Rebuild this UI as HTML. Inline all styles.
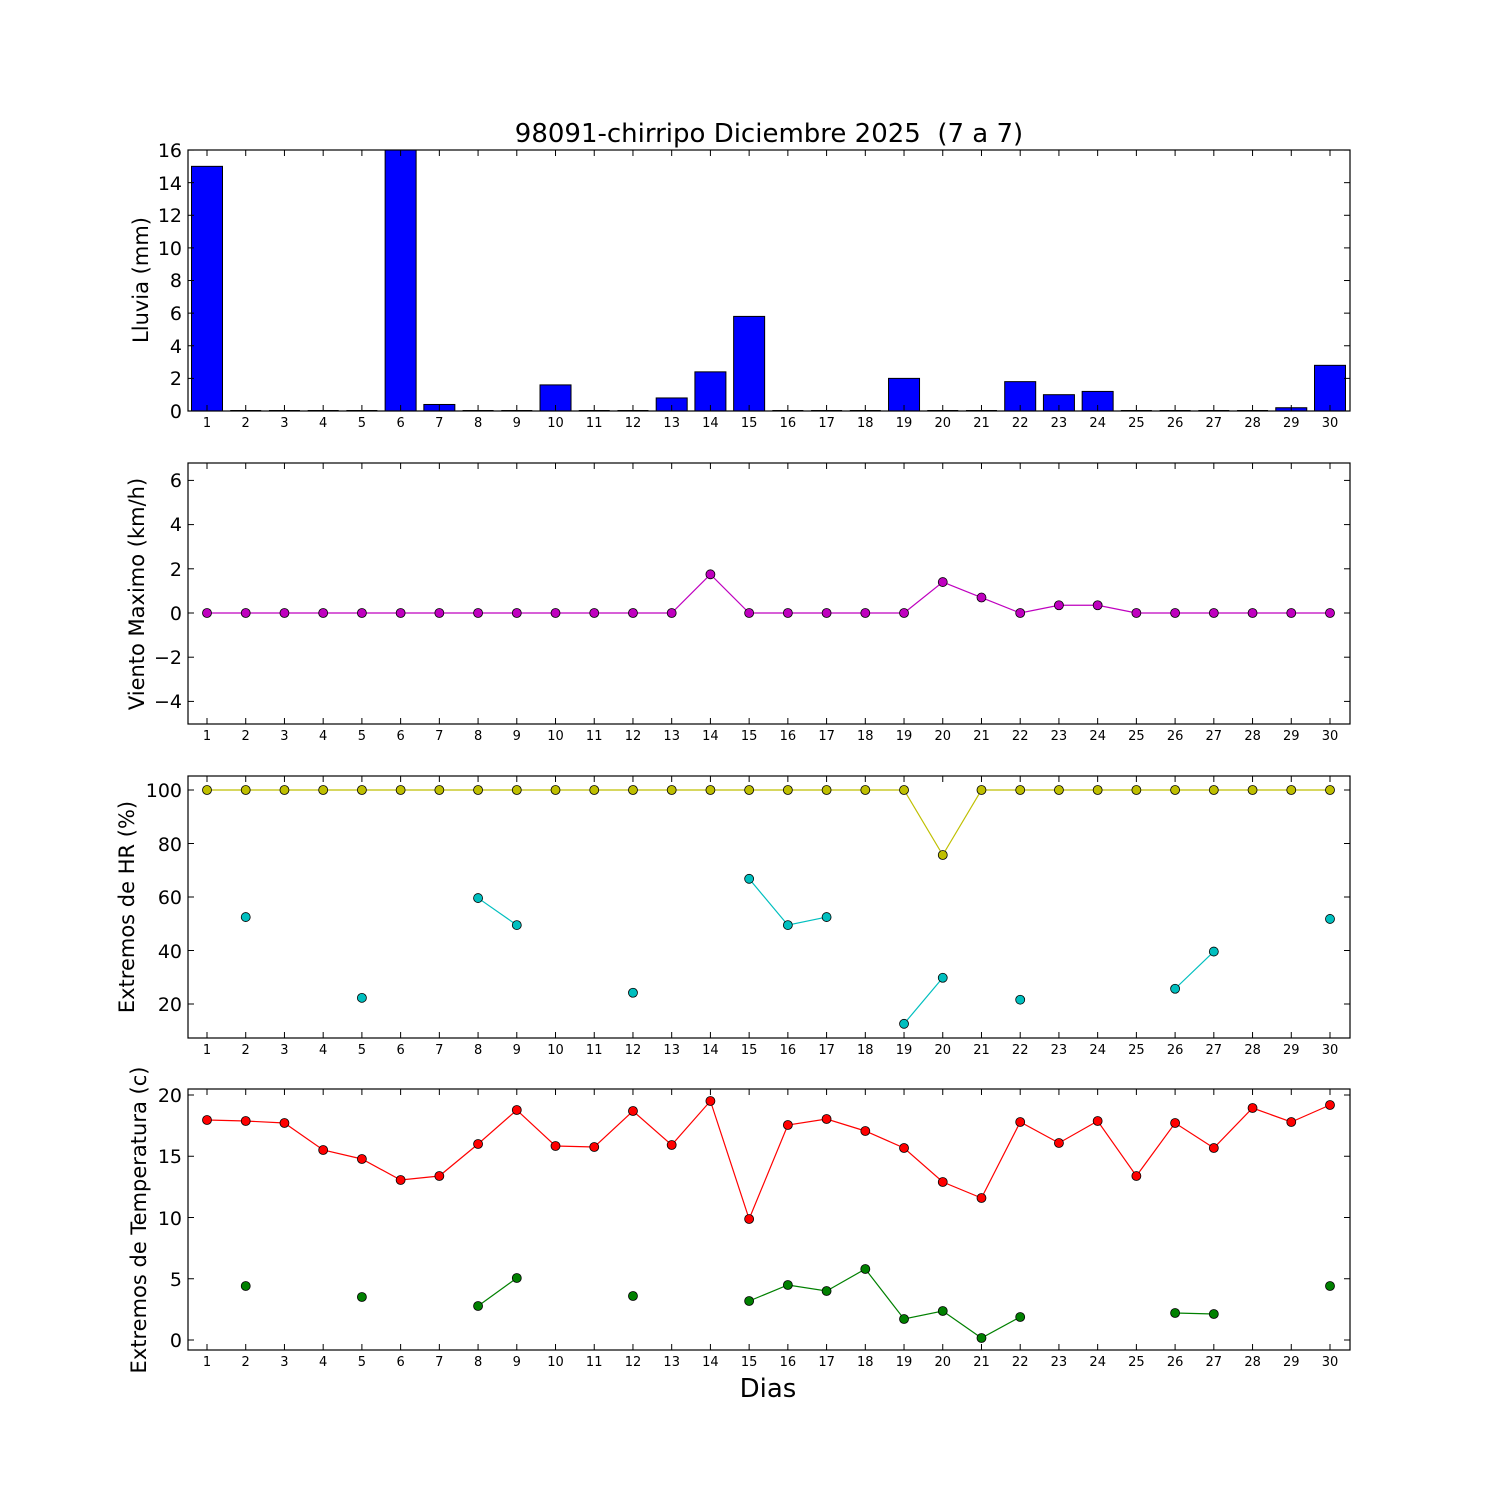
<!DOCTYPE html>
<html><head><meta charset="utf-8"><style>
html,body{margin:0;padding:0;background:#fff;}
svg{display:block;font-family:"DejaVu Sans","Liberation Sans",sans-serif;}
.tl{font-size:13px;text-anchor:middle;}
.yl{font-size:19px;text-anchor:end;}
.al{font-size:21px;text-anchor:middle;}
</style></head><body>
<svg id="s" width="1500" height="1500" xmlns="http://www.w3.org/2000/svg">
<rect width="1500" height="1500" fill="#fff"/>
<g id="shapes"></g>
<text x="769" y="142" style="font-size:26px;text-anchor:middle">98091-chirripo Diciembre 2025&#160; (7 a 7)</text>
<text x="768" y="1397" style="font-size:26px;text-anchor:middle">Dias</text>
<text class="al" transform="translate(148,280) rotate(-90)">Lluvia (mm)</text>
<text class="al" transform="translate(144,594) rotate(-90)">Viento Maximo (km/h)</text>
<text class="al" transform="translate(134,907) rotate(-90)">Extremos de HR (%)</text>
<text class="al" transform="translate(146,1220) rotate(-90)">Extremos de Temperatura (c)</text>
<g class="yl">
<text x="182" y="418">0</text><text x="182" y="385">2</text><text x="182" y="353">4</text><text x="182" y="320">6</text><text x="182" y="287">8</text><text x="182" y="255">10</text><text x="182" y="222">12</text><text x="182" y="190">14</text><text x="182" y="157">16</text>
<text x="182" y="708">−4</text><text x="182" y="664">−2</text><text x="182" y="620">0</text><text x="182" y="576">2</text><text x="182" y="531">4</text><text x="182" y="487">6</text>
<text x="182" y="1011">20</text><text x="182" y="958">40</text><text x="182" y="904">60</text><text x="182" y="851">80</text><text x="182" y="797">100</text>
<text x="182" y="1347">0</text><text x="182" y="1286">5</text><text x="182" y="1225">10</text><text x="182" y="1163">15</text><text x="182" y="1102">20</text>
</g>
<g class="tl">
<text y="427"><tspan x="207">1</tspan><tspan x="245.7">2</tspan><tspan x="284.4">3</tspan><tspan x="323.2">4</tspan><tspan x="361.9">5</tspan><tspan x="400.6">6</tspan><tspan x="439.3">7</tspan><tspan x="478.1">8</tspan><tspan x="516.8">9</tspan><tspan x="555.5">10</tspan><tspan x="594.2">11</tspan><tspan x="633">12</tspan><tspan x="671.7">13</tspan><tspan x="710.4">14</tspan><tspan x="749.1">15</tspan><tspan x="787.9">16</tspan><tspan x="826.6">17</tspan><tspan x="865.3">18</tspan><tspan x="904">19</tspan><tspan x="942.8">20</tspan><tspan x="981.5">21</tspan><tspan x="1020.2">22</tspan><tspan x="1058.9">23</tspan><tspan x="1097.7">24</tspan><tspan x="1136.4">25</tspan><tspan x="1175.1">26</tspan><tspan x="1213.8">27</tspan><tspan x="1252.6">28</tspan><tspan x="1291.3">29</tspan><tspan x="1330">30</tspan></text>
<text y="740"><tspan x="207">1</tspan><tspan x="245.7">2</tspan><tspan x="284.4">3</tspan><tspan x="323.2">4</tspan><tspan x="361.9">5</tspan><tspan x="400.6">6</tspan><tspan x="439.3">7</tspan><tspan x="478.1">8</tspan><tspan x="516.8">9</tspan><tspan x="555.5">10</tspan><tspan x="594.2">11</tspan><tspan x="633">12</tspan><tspan x="671.7">13</tspan><tspan x="710.4">14</tspan><tspan x="749.1">15</tspan><tspan x="787.9">16</tspan><tspan x="826.6">17</tspan><tspan x="865.3">18</tspan><tspan x="904">19</tspan><tspan x="942.8">20</tspan><tspan x="981.5">21</tspan><tspan x="1020.2">22</tspan><tspan x="1058.9">23</tspan><tspan x="1097.7">24</tspan><tspan x="1136.4">25</tspan><tspan x="1175.1">26</tspan><tspan x="1213.8">27</tspan><tspan x="1252.6">28</tspan><tspan x="1291.3">29</tspan><tspan x="1330">30</tspan></text>
<text y="1054"><tspan x="207">1</tspan><tspan x="245.7">2</tspan><tspan x="284.4">3</tspan><tspan x="323.2">4</tspan><tspan x="361.9">5</tspan><tspan x="400.6">6</tspan><tspan x="439.3">7</tspan><tspan x="478.1">8</tspan><tspan x="516.8">9</tspan><tspan x="555.5">10</tspan><tspan x="594.2">11</tspan><tspan x="633">12</tspan><tspan x="671.7">13</tspan><tspan x="710.4">14</tspan><tspan x="749.1">15</tspan><tspan x="787.9">16</tspan><tspan x="826.6">17</tspan><tspan x="865.3">18</tspan><tspan x="904">19</tspan><tspan x="942.8">20</tspan><tspan x="981.5">21</tspan><tspan x="1020.2">22</tspan><tspan x="1058.9">23</tspan><tspan x="1097.7">24</tspan><tspan x="1136.4">25</tspan><tspan x="1175.1">26</tspan><tspan x="1213.8">27</tspan><tspan x="1252.6">28</tspan><tspan x="1291.3">29</tspan><tspan x="1330">30</tspan></text>
<text y="1366"><tspan x="207">1</tspan><tspan x="245.7">2</tspan><tspan x="284.4">3</tspan><tspan x="323.2">4</tspan><tspan x="361.9">5</tspan><tspan x="400.6">6</tspan><tspan x="439.3">7</tspan><tspan x="478.1">8</tspan><tspan x="516.8">9</tspan><tspan x="555.5">10</tspan><tspan x="594.2">11</tspan><tspan x="633">12</tspan><tspan x="671.7">13</tspan><tspan x="710.4">14</tspan><tspan x="749.1">15</tspan><tspan x="787.9">16</tspan><tspan x="826.6">17</tspan><tspan x="865.3">18</tspan><tspan x="904">19</tspan><tspan x="942.8">20</tspan><tspan x="981.5">21</tspan><tspan x="1020.2">22</tspan><tspan x="1058.9">23</tspan><tspan x="1097.7">24</tspan><tspan x="1136.4">25</tspan><tspan x="1175.1">26</tspan><tspan x="1213.8">27</tspan><tspan x="1252.6">28</tspan><tspan x="1291.3">29</tspan><tspan x="1330">30</tspan></text>
</g>
</svg>
<script>
(function(){
var g=document.getElementById("shapes"),h="";
function X(d){return 207+(d-1)*38.724;}
var L=188,R=1350;
var panels=[[150,411],[463,724],[776,1038],[1089,1350]];
var rain={1:15,6:16.1,7:0.4,10:1.6,13:0.8,14:2.4,15:5.8,19:2.0,22:1.8,23:1.0,24:1.2,29:0.2,30:2.8};
for(var d=1;d<=30;d++){var v=rain[d]||0;var top=Math.max(150,411-v*16.31);
 if(v>0)h+='<rect x="'+(X(d)-15.5)+'" y="'+top+'" width="31" height="'+(411-top)+'" fill="#0000ff" stroke="#000" stroke-width="1"/>';
 else h+='<line x1="'+(X(d)-15.5)+'" x2="'+(X(d)+15.5)+'" y1="410.5" y2="410.5" stroke="#000" stroke-width="1"/>';}
function line(seg,col){return '<polyline fill="none" stroke="'+col+'" stroke-width="1.2" points="'+seg.map(function(p){return X(p[0])+','+p[1];}).join(' ')+'"/>';}
function series(pts,col){var s="",seg=[];
 for(var i=0;i<pts.length;i++){var p=pts[i];
  if(seg.length&&p[0]!==seg[seg.length-1][0]+1){if(seg.length>1)s+=line(seg,col);seg=[];}
  seg.push(p);}
 if(seg.length>1)s+=line(seg,col);
 pts.forEach(function(p){s+='<circle cx="'+X(p[0])+'" cy="'+p[1]+'" r="4.5" fill="'+col+'" stroke="#000" stroke-width="0.8"/>';});
 return s;}
var wv={14:1.75,20:1.4,21:0.7,23:0.35,24:0.35},wp=[];
for(d=1;d<=30;d++)wp.push([d,613-(wv[d]||0)*22.1]);
h+=series(wp,"#bf00bf");
var yp=[];for(d=1;d<=30;d++)yp.push([d,d==20?855:790]);
h+=series(yp,"#bfbf00");
var cy={2:52.5,5:22.3,8:59.6,9:49.5,12:24.2,15:66.8,16:49.5,17:52.5,19:12.6,20:29.8,22:21.6,26:25.7,27:39.6,30:51.8},cp=[];
for(d in cy)cp.push([+d,790+(100-cy[d])*2.675]);
cp.sort(function(a,b){return a[0]-b[0];});
h+=series(cp,"#00bfbf");
var red=[1120,1121,1123,1150,1159,1180,1176,1144,1110,1146,1147,1111,1145,1101,1219,1125,1119,1131,1148,1182,1198,1122,1143,1121,1176,1123,1148,1108,1122,1105],rp=[];
red.forEach(function(y,i){rp.push([i+1,y]);});
h+=series(rp,"#ff0000");
var gr={2:1286,5:1297,8:1306,9:1278,12:1296,15:1301,16:1285,17:1291,18:1269,19:1319,20:1311,21:1338,22:1317,26:1313,27:1314,30:1286},gp=[];
for(d in gr)gp.push([+d,gr[d]]);gp.sort(function(a,b){return a[0]-b[0];});
h+=series(gp,"#008000");
var yt=[[411,16.31,0,16,2],[613,22.1,-4,6,2],[790,2.675,20,100,20],[1340,12.25,0,20,5]];
panels.forEach(function(p,i){
 h+='<rect x="'+L+'" y="'+p[0]+'" width="'+(R-L)+'" height="'+(p[1]-p[0])+'" fill="none" stroke="#000" stroke-width="1.2"/>';
 for(var d=1;d<=30;d++){var x=X(d);h+='<line x1="'+x+'" x2="'+x+'" y1="'+p[1]+'" y2="'+(p[1]-6)+'" stroke="#000"/><line x1="'+x+'" x2="'+x+'" y1="'+p[0]+'" y2="'+(p[0]+6)+'" stroke="#000"/>';}
 var t=yt[i];
 for(var v=t[2];v<=t[3];v+=t[4]){var y=(i==2)?790+(100-v)*2.675:t[0]-v*t[1];
  h+='<line x1="'+L+'" x2="'+(L+6)+'" y1="'+y+'" y2="'+y+'" stroke="#000"/><line x1="'+R+'" x2="'+(R-6)+'" y1="'+y+'" y2="'+y+'" stroke="#000"/>';}
});
g.innerHTML=h;
})();
</script>
</body></html>
